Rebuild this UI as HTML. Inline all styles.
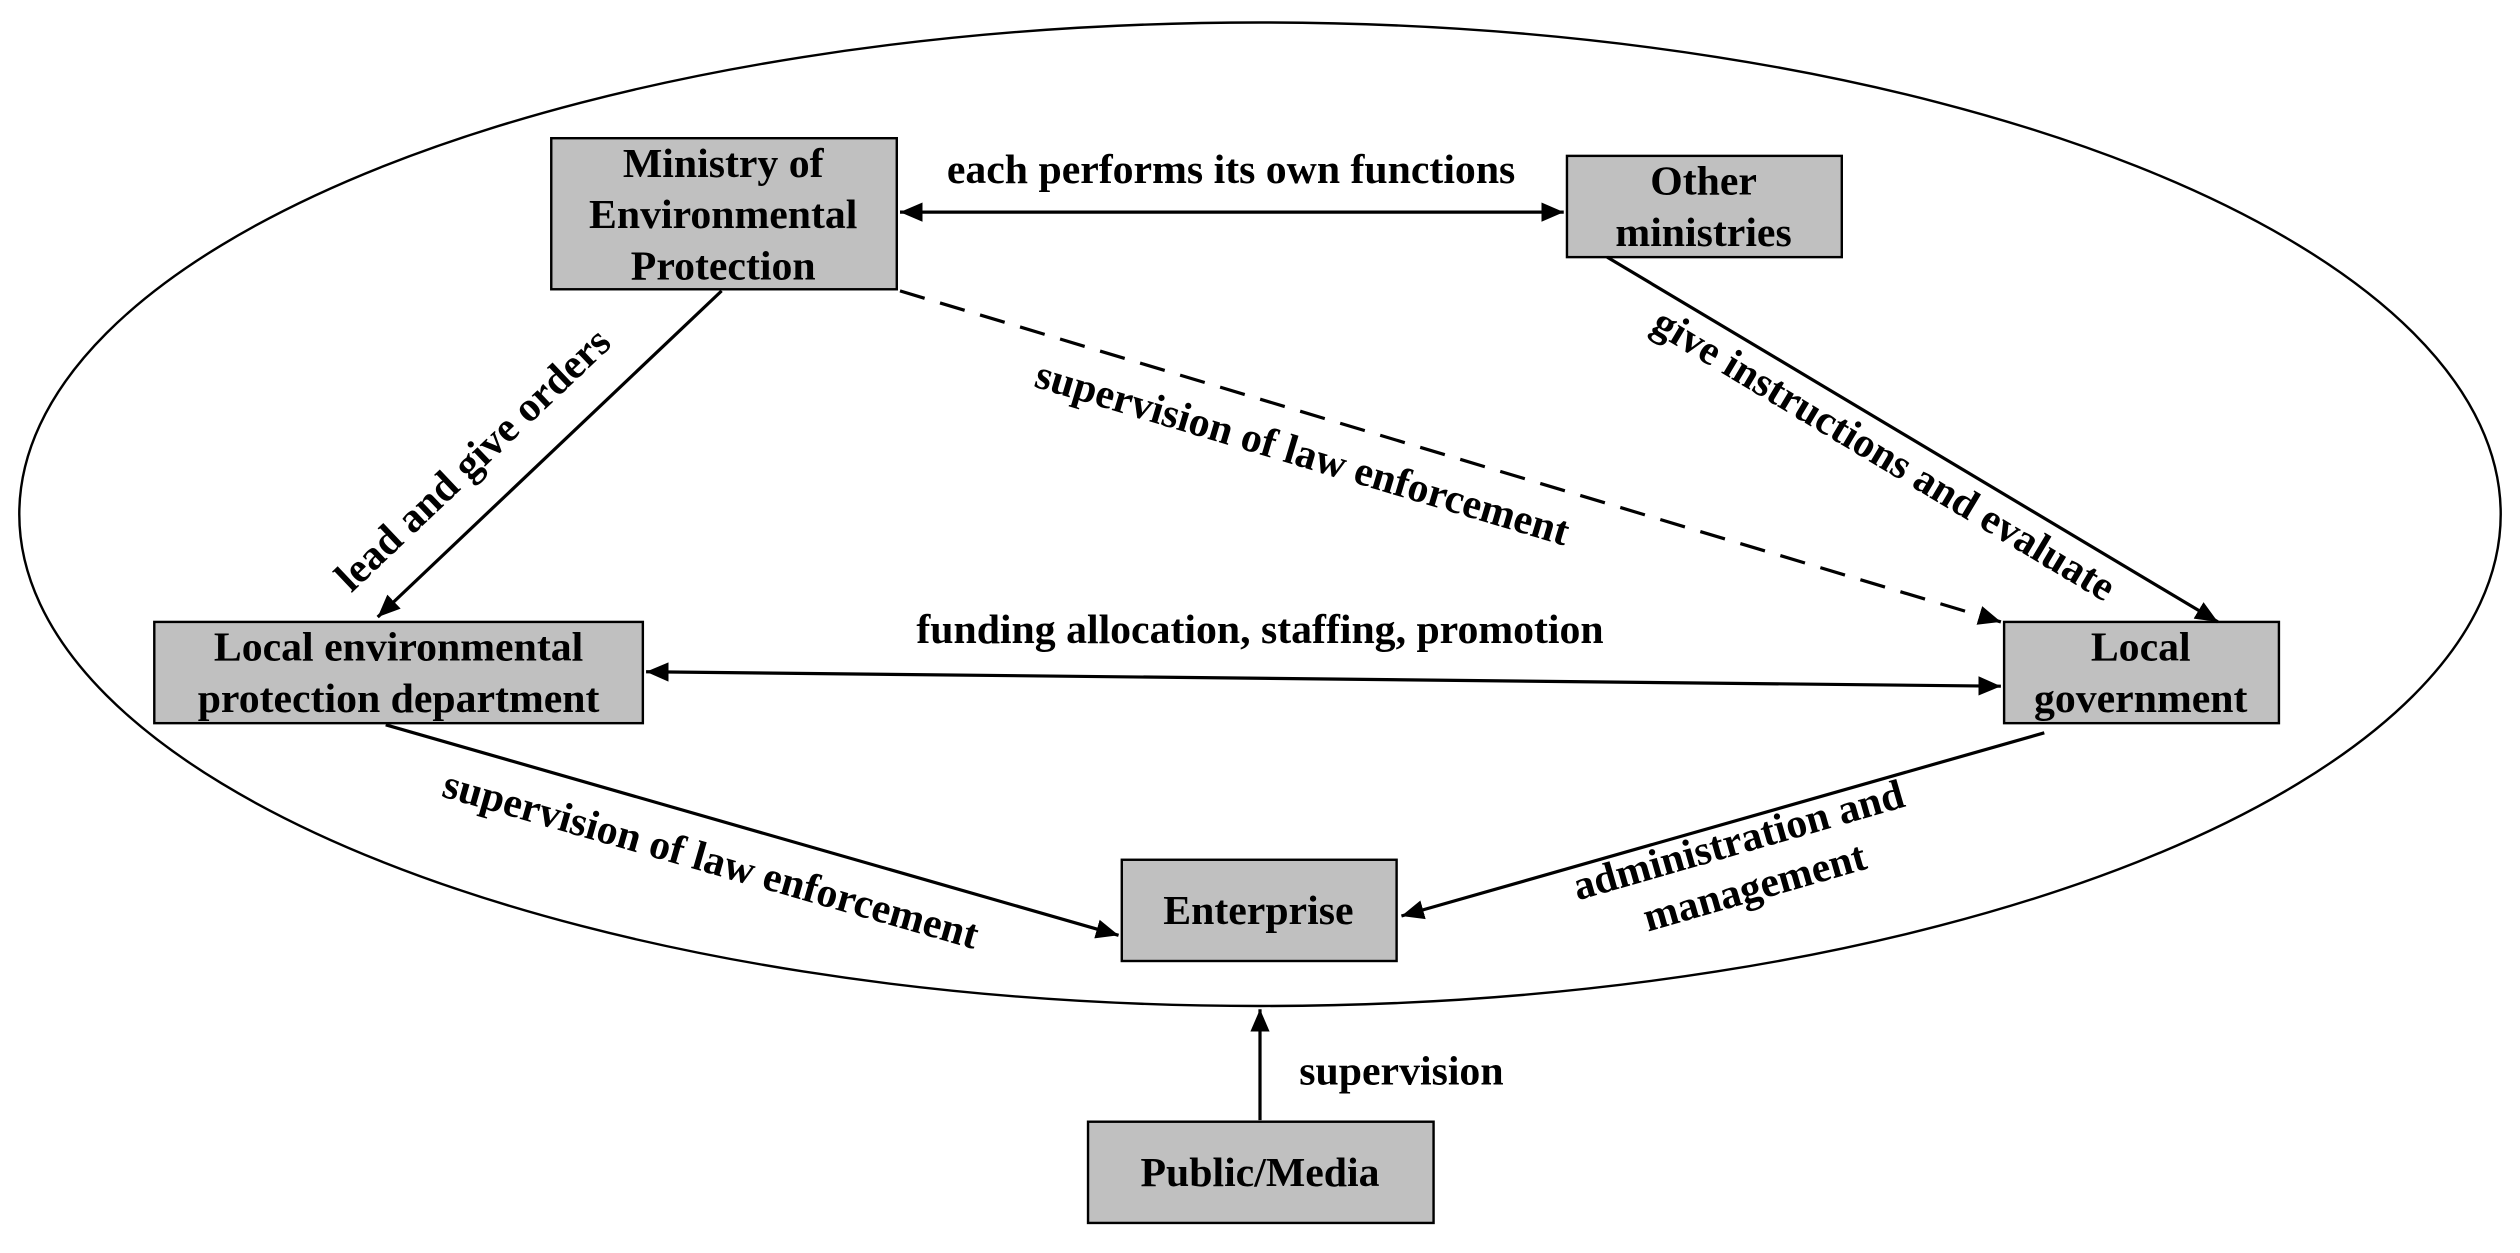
<!DOCTYPE html>
<html><head><meta charset="utf-8"><style>
html,body{margin:0;padding:0;background:#fff;}
svg{display:block;}
text{font-family:"Liberation Serif",serif;font-weight:bold;font-size:26px;fill:#000;}
</style></head><body>
<svg width="2520" height="1253" viewBox="0 0 1568 779.7" preserveAspectRatio="none" xmlns="http://www.w3.org/2000/svg">
<defs>
<marker id="a" viewBox="0 0 10 10" refX="10" refY="5" markerWidth="14" markerHeight="14" markerUnits="userSpaceOnUse" orient="auto-start-reverse">
<path d="M0,0.7 L10,5 L0,9.3 z" fill="#000"/>
</marker>
</defs>
<ellipse cx="784" cy="320" rx="772" ry="306" fill="none" stroke="#000" stroke-width="1.5"/>
<g fill="#c0c0c0" stroke="#000" stroke-width="1.5">
<rect x="343" y="86" width="215" height="94"/>
<rect x="975" y="97" width="171" height="63"/>
<rect x="96" y="387" width="304" height="63"/>
<rect x="1247" y="387" width="171" height="63"/>
<rect x="698" y="535" width="171" height="63"/>
<rect x="677" y="698" width="215" height="63"/>
</g>
<g text-anchor="middle">
<text x="450" y="110">Ministry of</text>
<text x="450" y="142">Environmental</text>
<text x="450" y="174">Protection</text>
<text x="1060" y="121">Other</text>
<text x="1060" y="153">ministries</text>
<text x="248" y="411">Local environmental</text>
<text x="248" y="443">protection department</text>
<text x="1332" y="411">Local</text>
<text x="1332" y="443">government</text>
<text x="783" y="575">Enterprise</text>
<text x="784" y="738">Public/Media</text>
</g>
<g stroke="#000" stroke-width="2" fill="none">
<line x1="560" y1="132" x2="973" y2="132" marker-start="url(#a)" marker-end="url(#a)"/>
<line x1="449" y1="181" x2="235" y2="384" marker-end="url(#a)"/>
<line x1="560" y1="181" x2="1245" y2="387" stroke-dasharray="16,10" marker-end="url(#a)"/>
<line x1="1000" y1="160" x2="1380" y2="387" marker-end="url(#a)"/>
<line x1="402" y1="418" x2="1245" y2="427" marker-start="url(#a)" marker-end="url(#a)"/>
<line x1="240" y1="451" x2="696" y2="582" marker-end="url(#a)"/>
<line x1="1272" y1="456" x2="872" y2="570" marker-end="url(#a)"/>
<line x1="784" y1="697" x2="784" y2="628" marker-end="url(#a)"/>
</g>
<g text-anchor="middle">
<text x="766" y="114">each performs its own functions</text>
<text x="784" y="400">funding allocation, staffing, promotion</text>
<text x="872" y="675">supervision</text>
<text transform="translate(300,292) rotate(-43.5)">lead and give orders</text>
<text transform="translate(808,290) rotate(16.7)">supervision of law enforcement</text>
<text transform="translate(1168,290) rotate(30.9)">give instructions and evaluate</text>
<text transform="translate(440,543) rotate(16)">supervision of law enforcement</text>
<text transform="translate(1084,531) rotate(-16)">administration and</text>
<text transform="translate(1094,560) rotate(-16)">management</text>
</g>
</svg>
</body></html>
